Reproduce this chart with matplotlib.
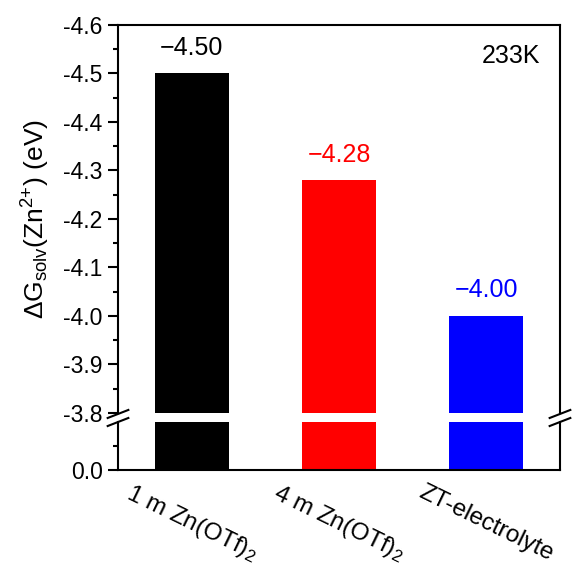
import matplotlib.pyplot as plt

plt.rcParams['font.family'] = ['Liberation Sans', 'DejaVu Sans']
plt.rcParams['mathtext.fontset'] = 'custom'
plt.rcParams['mathtext.rm'] = 'Liberation Sans'
plt.rcParams['mathtext.it'] = 'Liberation Sans:italic'

categories = ['1 m Zn(OTf)$_2$', '4 m Zn(OTf)$_2$', 'ZT-electrolyte']
values = [-4.50, -4.28, -4.00]
labels = ['\u22124.50', '\u22124.28', '\u22124.00']
colors = ['black', 'red', 'blue']

fig = plt.figure(figsize=(5.74, 5.74), dpi=100)
ax_top = fig.add_axes([0.2056, 0.2805, 0.770, 0.676])
ax_bot = fig.add_axes([0.2056, 0.1812, 0.770, 0.0836])

x = range(len(values))
for ax in (ax_top, ax_bot):
    ax.bar(x, values, width=0.5, color=colors, bottom=0)
    ax.set_xlim(-0.5, 2.5)
    for s in ax.spines.values():
        s.set_linewidth(1.5)
    ax.tick_params(axis='y', direction='out', width=1.5, length=7, labelsize=16.5, pad=4)
    ax.tick_params(axis='y', which='minor', direction='out', width=1.5, length=3.5)

# upper part: inverted axis
ax_top.set_ylim(-3.8, -4.6)
ax_top.set_yticks([-4.6, -4.5, -4.4, -4.3, -4.2, -4.1, -4.0, -3.9, -3.8])
ax_top.set_yticklabels(['-4.6', '-4.5', '-4.4', '-4.3', '-4.2', '-4.1', '-4.0', '-3.9', '-3.8'])
ax_top.set_yticks([-4.55, -4.45, -4.35, -4.25, -4.15, -4.05, -3.95, -3.85], minor=True)
ax_top.spines['bottom'].set_visible(False)
ax_top.set_xticks([])

ax_bot.set_ylim(0.0, -0.1)
ax_bot.set_yticks([0.0])
ax_bot.set_yticklabels(['0.0'])
ax_bot.set_yticks([-0.05], minor=True)
ax_bot.spines['top'].set_visible(False)
ax_bot.set_xticks(list(x))
ax_bot.set_xticklabels(categories, rotation=-26, ha='center', fontsize=17.5)
ax_bot.tick_params(axis='x', length=0, pad=8)

for i, (v, lab, c) in enumerate(zip(values, labels, colors)):
    ax_top.text(i, v - 0.028, lab, color=c, ha='center', va='bottom', fontsize=18)

ax_top.text(0.955, 0.92, '233K', transform=ax_top.transAxes, ha='right', va='center', fontsize=18)

ax_top.set_ylabel(r'$\Delta\mathrm{G}_{\mathrm{solv}}$(Zn$^{2{+}}$) (eV)', fontsize=19)
ax_top.yaxis.set_label_coords(-0.15, 0.5)

# break marks
for xf in (0.2056, 0.2056 + 0.770):
    for dy in (-0.007, 0.007):
        yc = 0.2718 + dy
        fig.add_artist(plt.Line2D([xf - 0.018, xf + 0.018], [yc - 0.007, yc + 0.007],
                                  color='black', lw=1.5))

fig.savefig('out.png', dpi=100)
